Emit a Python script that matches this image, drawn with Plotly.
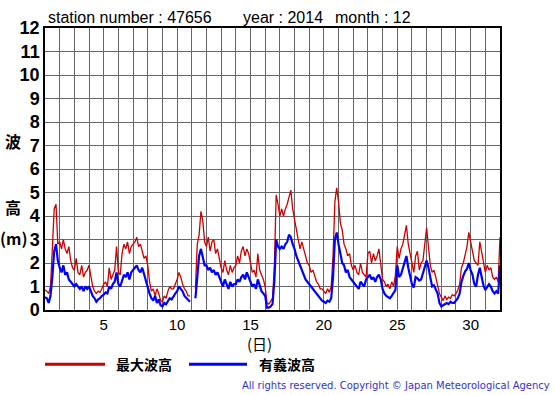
import plotly.graph_objects as go

# 3-hourly values (00,03,...,21h) for each day of Dec 2014, plus final point
sig_wave = [
    0.55, 0.5, 0.3, 0.6, 1.4, 2.5, 2.8, 2.1,
    1.8, 1.6, 1.9, 1.5, 1.6, 1.3, 1.2, 1.1,
    1.0, 1.1, 1.0, 0.9, 1.0, 0.8, 1.0, 0.9,
    1.0, 0.8, 0.6, 0.5, 0.35, 0.45, 0.5, 0.6,
    0.65, 0.75, 0.7, 1.0, 0.9, 1.1, 1.2, 1.6,
    1.1, 1.0, 1.3, 1.5, 1.4, 1.6, 1.3, 1.6,
    1.7, 1.8, 1.9, 1.7, 1.6, 1.8, 1.5, 1.3,
    1.0, 0.7, 0.5, 0.4, 0.6, 0.3, 0.45, 0.2,
    0.15, 0.3, 0.25, 0.4, 0.5, 0.45, 0.6, 0.7,
    0.8, 1.0, 0.9, 0.8, 0.6, 0.5, 0.4, 0.35,
    None, None, 0.5, 1.5, 2.3, 2.6, 2.3, 1.9,
    1.9, 1.7, 1.8, 1.6, 1.7, 1.5, 1.6, 1.4,
    1.2, 1.0, 1.3, 1.1, 0.9, 1.2, 1.0, 1.1,
    1.1, 1.3, 1.2, 1.4, 1.5, 1.3, 1.6, 1.4,
    1.2, 1.0, 1.1, 0.9, 1.3, 1.0, 0.8, 0.7,
    0.6, 0.1, 0.1, 0.15, 0.25, 1.2, 3.0, 2.7,
    2.6, 2.7, 2.6, 2.8, 2.9, 3.2, 3.1, 2.8,
    2.6, 2.3, 2.1, 1.9, 1.7, 1.5, 1.3, 1.2,
    1.1, 1.0, 0.9, 0.8, 0.75, 0.6, 0.55, 0.4,
    0.35, 0.3, 0.4, 0.35, 0.5, 1.4, 3.0, 3.3,
    2.8, 2.3, 2.0, 1.9, 1.6, 1.7, 1.4, 1.3,
    1.2, 1.1, 1.0, 0.9, 1.2, 1.1, 1.0, 1.3,
    1.4, 1.5, 1.3, 1.4, 1.2, 1.4, 1.5, 1.3,
    0.9, 0.7, 0.6, 0.55, 0.5, 0.6, 0.7, 0.85,
    1.9, 1.4, 1.5, 1.8, 2.0, 2.3, 1.8, 1.5,
    1.1, 0.95, 1.4, 1.35, 1.25, 1.3, 1.6, 1.9,
    2.1, 1.8, 1.3, 1.0, 1.05, 0.85, 0.7, 0.3,
    0.15, 0.2, 0.25, 0.3, 0.25, 0.35, 0.3, 0.3,
    0.4, 0.5, 0.7, 1.2, 1.45, 1.65, 1.75, 2.0,
    1.7, 1.5, 1.1, 1.0, 1.5, 1.8, 1.4, 1.05,
    0.85, 1.0, 1.1, 1.0, 0.8, 0.7, 0.8, 0.7,
    1.9,
]

max_wave = [
    0.85, 0.8, 0.7, 1.0, 2.6, 4.3, 4.5, 2.8,
    2.9, 2.6, 3.0, 2.6, 2.4, 2.7, 2.1, 1.8,
    1.7, 2.2, 1.6, 1.5, 1.9, 1.4, 1.6, 1.7,
    1.9, 1.4, 1.0, 0.8, 0.7, 0.8, 0.75, 0.9,
    1.1, 1.2, 1.0, 1.8, 1.3, 1.5, 1.7, 2.7,
    1.6, 1.5, 2.4, 2.8, 2.6, 2.9, 2.4, 2.7,
    2.8, 2.9, 3.1, 2.7, 2.8, 2.5, 2.2, 2.3,
    1.9, 1.2, 0.8, 0.9, 0.6, 0.9, 0.7, 0.4,
    0.35, 0.6, 0.5, 0.8, 1.0, 0.9, 0.9, 1.1,
    1.3, 1.6, 1.4, 1.1, 0.9, 0.8, 0.6, 0.6,
    None, None, 0.9, 2.8, 3.2, 4.2, 3.8, 2.9,
    2.7, 3.1, 2.5, 2.9, 3.0, 2.4, 2.6, 2.2,
    1.8, 1.6, 2.1, 1.7, 1.5, 1.9, 1.6, 1.8,
    1.9, 2.3, 2.0, 2.5, 2.7, 2.3, 2.6, 2.4,
    2.0, 1.6, 1.7, 1.4, 2.4, 1.7, 1.5, 1.3,
    1.0, 0.3, 0.25, 0.35, 0.5, 1.8, 4.9, 4.5,
    4.0, 4.3, 4.0, 4.3, 4.5, 4.8, 5.1, 4.3,
    3.8, 3.4, 3.0, 2.6, 2.9, 2.6, 2.3, 2.0,
    1.9, 1.6, 1.7, 1.4, 1.2, 1.1, 0.9, 0.9,
    0.8, 0.7, 0.9, 0.75, 1.0, 2.3, 4.6, 5.2,
    4.6, 3.7, 3.4, 2.8, 2.6, 2.3, 2.4, 1.9,
    1.7, 1.9, 1.6, 1.5, 2.0, 1.6, 1.5, 1.4,
    2.4, 2.5, 2.0, 2.4, 2.1, 2.3, 2.6, 2.0,
    1.3, 1.2, 1.0, 1.1, 0.9, 1.2, 1.0, 1.5,
    2.7, 2.2, 2.6, 2.8, 3.2, 3.6, 2.8, 2.4,
    2.0, 1.6, 2.3, 2.5, 1.7, 2.0, 2.1, 2.7,
    3.5, 2.7, 1.9, 1.6, 1.7, 1.4, 1.0, 0.7,
    0.55, 0.4, 0.6, 0.45, 0.55, 0.5, 0.65, 0.6,
    0.7, 0.85, 1.1, 1.8, 2.0, 2.4, 2.7, 3.3,
    2.9, 2.4, 2.1, 2.0, 1.9, 2.9, 2.4, 1.9,
    1.6, 1.9, 1.7, 1.8, 1.4, 1.3, 1.4, 1.2,
    3.1,
]

day_ticks = list(range(1, 33))
day_labels = [str(d) if d % 5 == 0 else "" for d in day_ticks]
height_ticks = list(range(0, 13))
height_labels = [str(v) for v in height_ticks]

days = [1 + i / 8 for i in range(len(max_wave))]

fig = go.Figure()
fig.add_trace(go.Scatter(x=days, y=max_wave, mode="lines", name="最大波高",
                         line=dict(color="#CC0000", width=1.3), connectgaps=False))
fig.add_trace(go.Scatter(x=days, y=sig_wave, mode="lines", name="有義波高",
                         line=dict(color="#0000FF", width=2.2), connectgaps=False))

L, R, T, B = 45, 500, 27.5, 310.5
def px(x):
    return (x - L) / (R - L)
def py(y):
    return (B - y) / (B - T)

ann = []
title_font = dict(family="Liberation Sans, Arial", size=16, color="black")
for txt, x in [("station number : 47656", 46), ("year : 2014", 241), ("month : 12", 333)]:
    ann.append(dict(text=txt, x=px(x), y=py(17), xref="paper", yref="paper",
                    xanchor="left", yanchor="middle", showarrow=False, font=title_font))
cjk_bold = dict(family="Noto Sans CJK JP", size=16, color="black")
ann.append(dict(text="<b>波</b>", x=px(13), y=py(141), xref="paper", yref="paper",
                xanchor="center", yanchor="middle", showarrow=False, font=cjk_bold))
ann.append(dict(text="<b>高</b>", x=px(13), y=py(207), xref="paper", yref="paper",
                xanchor="center", yanchor="middle", showarrow=False, font=cjk_bold))
ann.append(dict(text="<b>(m)</b>", x=px(14), y=py(238), xref="paper", yref="paper",
                xanchor="center", yanchor="middle", showarrow=False, font=cjk_bold))
ann.append(dict(text="(日)", x=px(259), y=py(344), xref="paper", yref="paper",
                xanchor="center", yanchor="middle", showarrow=False,
                font=dict(family="Noto Sans CJK JP", size=15, color="black")))
leg_font = dict(family="Noto Sans CJK JP", size=14, color="black")
ann.append(dict(text="<b>最大波高</b>", x=px(114), y=py(365), xref="paper", yref="paper",
                xanchor="left", yanchor="middle", showarrow=False, font=leg_font))
ann.append(dict(text="<b>有義波高</b>", x=px(257), y=py(365), xref="paper", yref="paper",
                xanchor="left", yanchor="middle", showarrow=False, font=leg_font))
ann.append(dict(text="All rights reserved. Copyright © Japan Meteorological Agency",
                x=px(552), y=py(386), xref="paper", yref="paper",
                xanchor="right", yanchor="middle", showarrow=False,
                font=dict(family="DejaVu Sans", size=10, color="#3333CC")))

shapes = [
    dict(type="line", xref="paper", yref="paper", x0=px(45), x1=px(105), y0=py(365), y1=py(365),
         line=dict(color="#CC0000", width=3)),
    dict(type="line", xref="paper", yref="paper", x0=px(189), x1=px(247), y0=py(365), y1=py(365),
         line=dict(color="#0000FF", width=3)),
]

fig.update_layout(
    width=555, height=395,
    margin=dict(l=L, r=555 - R, t=T, b=395 - B, pad=0),
    paper_bgcolor="white", plot_bgcolor="white",
    showlegend=False,
    annotations=ann, shapes=shapes,
    xaxis=dict(range=[1, 32], tickmode="array", tickvals=day_ticks, ticktext=day_labels,
               showgrid=True, gridcolor="#666666", gridwidth=1, zeroline=False,
               showline=True, linecolor="black", linewidth=1.5, mirror=True, ticks="",
               tickfont=dict(family="Liberation Sans, Arial", size=15, color="black")),
    yaxis=dict(range=[0, 12], tickmode="array", tickvals=height_ticks, ticktext=height_labels,
               showgrid=True, gridcolor="#666666", gridwidth=1, zeroline=False,
               showline=True, linecolor="black", linewidth=1.5, mirror=True, ticks="",
               tickfont=dict(family="Liberation Sans, Arial", size=18, color="black",
                             weight="bold")),
)

fig.write_html("out.html", config={"displayModeBar": False},
               post_script="document.body.style.margin='0';document.body.style.overflow='hidden';")
